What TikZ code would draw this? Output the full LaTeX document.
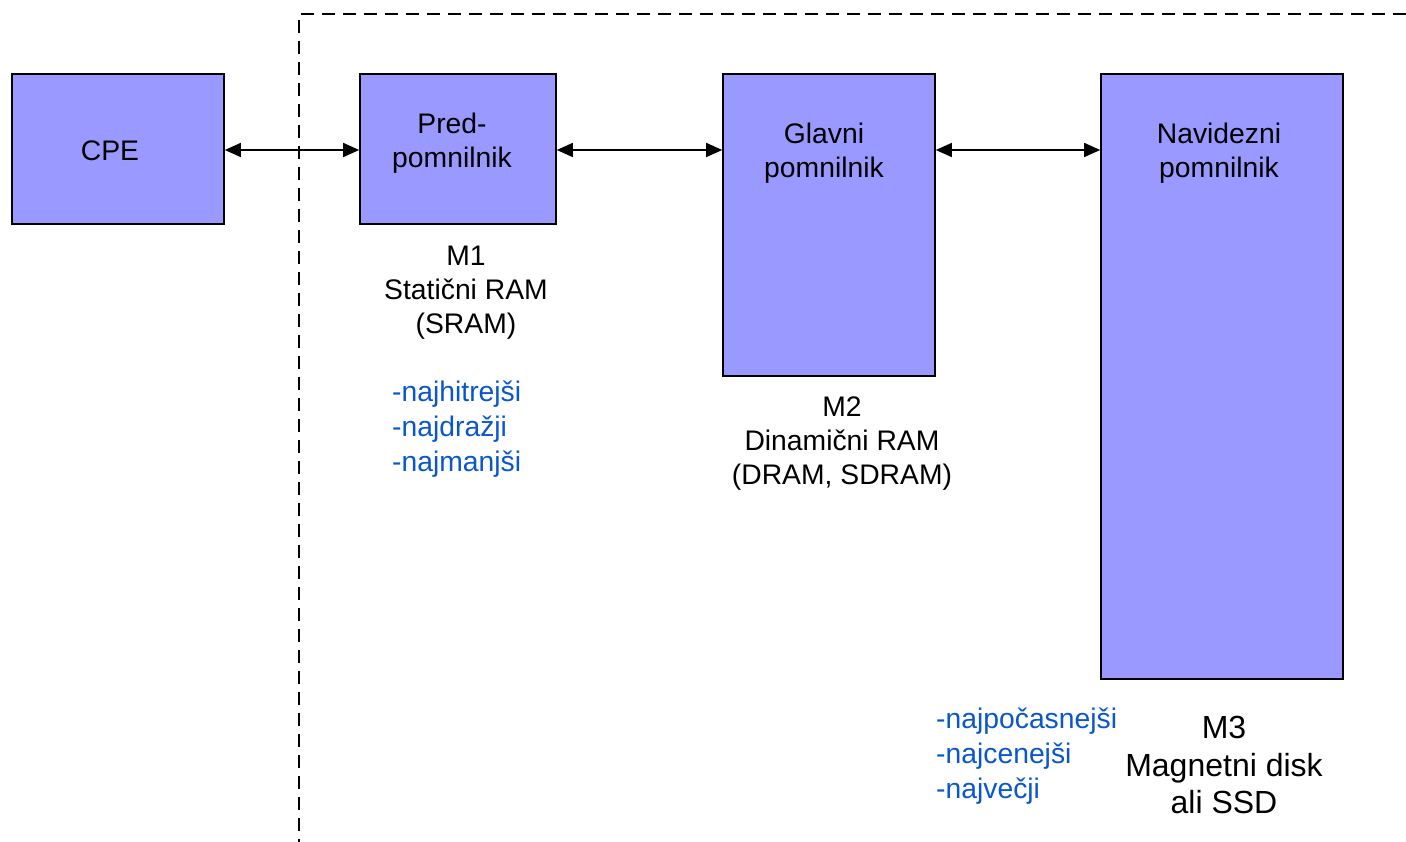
\documentclass[tikz,border=0pt]{standalone}
\usepackage{fontspec}
\setmainfont{Liberation Sans}
\usetikzlibrary{arrows.meta}
\definecolor{boxfill}{HTML}{9999FF}
\definecolor{bluetext}{HTML}{0A56CC}
\begin{document}
\begin{tikzpicture}[x=1pt,y=-1pt,
  membox/.style={draw=black, line width=1.6pt, fill=boxfill, rectangle, inner sep=0pt},
  txt/.style={align=center, inner sep=0pt, font=\fontsize{28.3}{34}\selectfont},
  bigtxt/.style={align=center, inner sep=0pt, font=\fontsize{32}{37.5}\selectfont},
  bluelist/.style={align=left, inner sep=0pt, text=bluetext, font=\fontsize{28.3}{35}\selectfont, anchor=west},
  biarrow/.style={line width=1.5pt, {Triangle[length=16pt,width=14pt]}-{Triangle[length=16pt,width=14pt]}},
  boundary/.style={line width=1.6pt, dash pattern=on 13pt off 8pt}
]
\useasboundingbox (0,0) rectangle (1406,842);

% dashed boundary
\coordinate (dtop) at (1406,14);
\coordinate (dcorner) at (299,14);
\coordinate (dbottom) at (299,842);
\draw[boundary] (dtop) -- (dcorner) -- (dbottom);

% boxes
\node[membox, minimum width=212, minimum height=150] (cpe) at (118,149) {};
\node[membox, minimum width=196, minimum height=150] (pred) at (458,149) {};
\node[membox, minimum width=212, minimum height=302] (glavni) at (829,225) {};
\node[membox, minimum width=242, minimum height=605] (navid) at (1222,376.5) {};

% box texts
\node[txt] (cpet) at (110,151) {CPE};
\node[txt] (predt) at (452,143.5) {Pred-\\pomnilnik};
\node[txt] (glavnit) at (824,153.5) {Glavni\\pomnilnik};
\node[txt] (navidt) at (1219,153.5) {Navidezni\\pomnilnik};

% connectors
\coordinate (a1) at (224,150);
\coordinate (a2) at (360,150);
\draw[biarrow] (cpe.east |- a1) -- (pred.west |- a2);
\draw[biarrow] (pred.east |- a1) -- (glavni.west |- a2);
\draw[biarrow] (glavni.east |- a1) -- (navid.west |- a2);

% captions
\node[txt] (m1) at (466,292.5) {M1\\Statični RAM\\(SRAM)};
\node[txt] (m2) at (842,443.5) {M2\\Dinamični RAM\\(DRAM, SDRAM)};
\node[bigtxt] (m3) at (1224,765) {M3\\Magnetni disk\\ali SSD};

% properties
\node[bluelist] (l1) at (392,429) {-najhitrejši\\-najdražji\\-najmanjši};
\node[bluelist] (l2) at (936,756) {-najpočasnejši\\-najcenejši\\-največji};
\end{tikzpicture}
\end{document}
